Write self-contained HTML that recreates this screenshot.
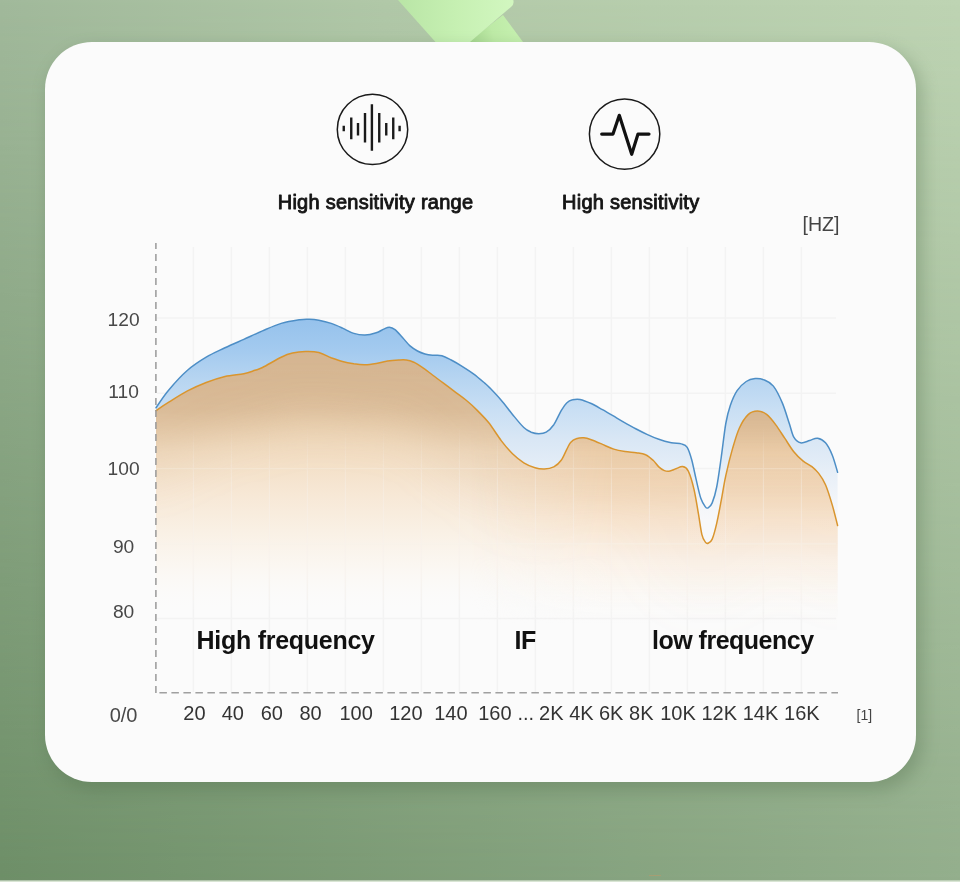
<!DOCTYPE html>
<html><head><meta charset="utf-8"><title>Frequency response</title>
<style>
html,body{margin:0;padding:0;}
body{width:960px;height:882px;overflow:hidden;background:#8fab88;font-family:"Liberation Sans",sans-serif;}
svg{display:block;}
text{font-family:"Liberation Sans",sans-serif;}
</style></head><body>
<svg width="960" height="882" viewBox="0 0 960 882">
<defs>
<linearGradient id="bgT" x1="0" y1="0" x2="1" y2="0"><stop offset="0" stop-color="#a1b99b"/><stop offset="0.4" stop-color="#b1c8a8"/><stop offset="1" stop-color="#bed4b3"/></linearGradient>
<linearGradient id="bgB" x1="0" y1="0" x2="1" y2="0"><stop offset="0" stop-color="#6d8e67"/><stop offset="1" stop-color="#93ae8c"/></linearGradient>
<linearGradient id="vm" x1="0" y1="0" x2="0" y2="1"><stop offset="0" stop-color="#fff" stop-opacity="0"/><stop offset="1" stop-color="#fff" stop-opacity="1"/></linearGradient>
<mask id="mk" maskUnits="userSpaceOnUse" x="0" y="0" width="960" height="882"><rect width="960" height="882" fill="url(#vm)"/></mask>
<linearGradient id="og" gradientUnits="userSpaceOnUse" x1="0" y1="350" x2="0" y2="612"><stop offset="0.000" stop-color="#e4c9a7"/><stop offset="0.153" stop-color="#e8cdab"/><stop offset="0.286" stop-color="#eed6b7"/><stop offset="0.420" stop-color="#f3dfc6"/><stop offset="0.553" stop-color="#f7e8d6"/><stop offset="0.687" stop-color="#f9f0e4"/><stop offset="0.824" stop-color="#fbf6ef" stop-opacity="0.8"/><stop offset="1.000" stop-color="#fbfbfa" stop-opacity="0"/></linearGradient>
<linearGradient id="og2" gradientUnits="userSpaceOnUse" x1="0" y1="400" x2="0" y2="625"><stop offset="0.000" stop-color="#e0c29e"/><stop offset="0.067" stop-color="#e4c7a3"/><stop offset="0.222" stop-color="#f0d2ae"/><stop offset="0.418" stop-color="#f5dcc0"/><stop offset="0.556" stop-color="#f8e6d2"/><stop offset="0.693" stop-color="#faf0e6"/><stop offset="0.831" stop-color="#fbf6f0" stop-opacity="0.7"/><stop offset="1.000" stop-color="#fbfaf9" stop-opacity="0"/></linearGradient>
<linearGradient id="hm" gradientUnits="userSpaceOnUse" x1="470" y1="0" x2="610" y2="0"><stop offset="0" stop-color="#fff" stop-opacity="0"/><stop offset="1" stop-color="#fff" stop-opacity="1"/></linearGradient>
<mask id="rm" maskUnits="userSpaceOnUse" x="0" y="0" width="960" height="882"><rect x="150" y="300" width="700" height="400" fill="url(#hm)"/></mask>
<linearGradient id="bl" gradientUnits="userSpaceOnUse" x1="0" y1="320" x2="0" y2="520"><stop offset="0.000" stop-color="#96c2ec"/><stop offset="0.150" stop-color="#a3caef"/><stop offset="0.300" stop-color="#b7d5f1"/><stop offset="0.450" stop-color="#c9dff4"/><stop offset="0.600" stop-color="#d9e7f5"/><stop offset="0.750" stop-color="#e6eef7"/><stop offset="0.900" stop-color="#f2f5f9"/><stop offset="1.000" stop-color="#f7f8fa"/></linearGradient>
<filter id="sh" x="-10%" y="-10%" width="120%" height="120%"><feGaussianBlur stdDeviation="9"/></filter>
<linearGradient id="rib" x1="0" y1="0" x2="1" y2="0"><stop offset="0" stop-color="#b9e5a6"/><stop offset="0.5" stop-color="#c6f0b2"/><stop offset="1" stop-color="#d2f7c0"/></linearGradient>
<linearGradient id="rib2" gradientUnits="userSpaceOnUse" x1="472" y1="42" x2="515" y2="30"><stop offset="0" stop-color="#a6d690"/><stop offset="0.5" stop-color="#bdeaa6"/><stop offset="1" stop-color="#c4efae"/></linearGradient>
<clipPath id="lowclip"><rect x="150" y="430" width="700" height="270"/></clipPath>
<clipPath id="oclip"><path d="M156.0 410.6C158.1 409.2 163.5 405.5 168.8 402.2C174.0 398.9 181.2 394.2 187.5 390.9C193.8 387.6 200.0 384.9 206.2 382.5C212.5 380.1 218.8 378.0 225.0 376.5C231.2 375.0 238.8 374.7 243.8 373.7C248.8 372.7 251.9 371.3 255.0 370.3C258.1 369.3 258.1 369.7 262.5 367.5C266.9 365.3 276.2 359.6 281.2 357.2C286.2 354.8 288.4 354.0 292.5 353.1C296.6 352.2 301.2 351.7 305.6 351.6C310.0 351.5 314.5 351.5 318.8 352.5C323.0 353.5 327.3 356.2 331.2 357.8C335.2 359.2 338.8 360.5 342.5 361.5C346.2 362.5 350.0 363.2 353.8 363.8C357.5 364.3 361.2 364.8 365.0 364.7C368.8 364.6 372.5 364.0 376.2 363.4C380.0 362.8 383.8 361.7 387.5 361.1C391.2 360.5 395.6 360.2 398.8 360.0C401.9 359.8 403.8 359.6 406.2 360.0C408.8 360.4 411.2 361.1 413.8 362.2C416.2 363.4 418.1 364.5 421.2 366.6C424.4 368.7 428.8 372.2 432.5 375.0C436.2 377.8 440.0 380.6 443.8 383.4C447.5 386.2 451.2 389.1 455.0 391.9C458.8 394.7 462.5 397.2 466.2 400.3C470.0 403.4 473.8 406.9 477.5 410.6C481.2 414.4 484.8 417.8 488.8 422.8C492.7 427.8 497.3 435.4 501.2 440.6C505.2 445.8 508.8 450.1 512.5 453.8C516.2 457.4 520.0 460.4 523.8 462.8C527.5 465.1 531.6 466.7 535.0 467.8C538.4 468.9 541.3 469.2 544.4 469.1C547.5 469.0 550.9 468.4 553.8 466.9C556.6 465.4 559.1 463.3 561.2 460.3C563.4 457.3 565.3 452.1 566.9 449.1C568.5 446.1 569.0 444.2 570.6 442.5C572.2 440.8 574.1 439.5 576.2 438.8C578.4 438.0 581.2 437.6 583.8 437.8C586.2 438.0 588.1 438.6 591.2 439.7C594.4 440.8 598.8 442.8 602.5 444.4C606.2 446.0 610.0 447.9 613.8 449.1C617.5 450.3 621.2 450.9 625.0 451.5C628.8 452.1 632.8 452.3 636.2 452.8C639.7 453.3 642.8 453.4 645.6 454.7C648.4 455.9 650.9 458.3 653.1 460.3C655.3 462.3 656.9 465.2 658.8 466.9C660.6 468.6 662.5 469.9 664.4 470.6C666.3 471.3 668.1 471.3 670.0 471.0C671.9 470.7 673.8 469.5 675.9 468.8C678.0 468.1 680.6 466.2 682.7 466.6C684.8 467.0 686.4 467.3 688.3 471.1C690.2 474.9 692.3 482.1 694.0 489.3C695.7 496.5 697.2 506.7 698.5 514.2C699.8 521.8 700.8 530.0 701.9 534.6C703.0 539.2 704.4 540.7 705.4 542.1C706.4 543.5 707.0 543.7 708.1 543.2C709.2 542.7 710.8 542.4 712.2 539.1C713.6 535.8 715.2 529.7 716.7 523.3C718.2 516.9 719.7 508.6 721.2 500.6C722.7 492.7 723.9 484.3 725.8 475.6C727.7 466.9 730.3 456.3 732.6 448.4C734.9 440.5 736.8 433.7 739.4 428.0C742.0 422.3 745.4 417.2 748.4 414.4C751.4 411.6 754.5 411.0 757.5 411.0C760.5 411.0 763.6 412.1 766.6 414.4C769.6 416.7 772.6 420.6 775.6 424.6C778.6 428.6 781.7 433.7 784.7 438.2C787.7 442.7 790.8 448.0 793.8 451.8C796.8 455.6 799.9 458.4 802.9 460.9C805.9 463.4 809.3 464.5 811.9 466.6C814.5 468.7 816.4 470.4 818.7 473.4C821.0 476.4 823.2 479.4 825.5 484.7C827.8 490.0 830.3 498.3 832.3 505.1C834.3 511.9 836.7 522.1 837.6 525.5L837.6 640L156 640Z"/></clipPath>
<clipPath id="oclip2"><path d="M156.0 410.6C158.1 409.2 163.5 405.5 168.8 402.2C174.0 398.9 181.2 394.2 187.5 390.9C193.8 387.6 200.0 384.9 206.2 382.5C212.5 380.1 218.8 378.0 225.0 376.5C231.2 375.0 238.8 374.7 243.8 373.7C248.8 372.7 251.9 371.3 255.0 370.3C258.1 369.3 258.1 369.7 262.5 367.5C266.9 365.3 276.2 359.6 281.2 357.2C286.2 354.8 288.4 354.0 292.5 353.1C296.6 352.2 301.2 351.7 305.6 351.6C310.0 351.5 314.5 351.5 318.8 352.5C323.0 353.5 327.3 356.2 331.2 357.8C335.2 359.2 338.8 360.5 342.5 361.5C346.2 362.5 350.0 363.2 353.8 363.8C357.5 364.3 361.2 364.8 365.0 364.7C368.8 364.6 372.5 364.0 376.2 363.4C380.0 362.8 383.8 361.7 387.5 361.1C391.2 360.5 395.6 360.2 398.8 360.0C401.9 359.8 403.8 359.6 406.2 360.0C408.8 360.4 411.2 361.1 413.8 362.2C416.2 363.4 418.1 364.5 421.2 366.6C424.4 368.7 428.8 372.2 432.5 375.0C436.2 377.8 440.0 380.6 443.8 383.4C447.5 386.2 451.2 389.1 455.0 391.9C458.8 394.7 462.5 397.2 466.2 400.3C470.0 403.4 473.8 406.9 477.5 410.6C481.2 414.4 484.8 417.8 488.8 422.8C492.7 427.8 497.3 435.4 501.2 440.6C505.2 445.8 508.8 450.1 512.5 453.8C516.2 457.4 520.0 460.4 523.8 462.8C527.5 465.1 531.6 466.7 535.0 467.8C538.4 468.9 541.3 469.2 544.4 469.1C547.5 469.0 550.9 468.4 553.8 466.9C556.6 465.4 559.1 463.3 561.2 460.3C563.4 457.3 565.3 452.1 566.9 449.1C568.5 446.1 569.0 444.2 570.6 442.5C572.2 440.8 574.1 439.5 576.2 438.8C578.4 438.0 581.2 437.6 583.8 437.8C586.2 438.0 588.1 438.6 591.2 439.7C594.4 440.8 598.8 442.8 602.5 444.4C606.2 446.0 610.0 447.9 613.8 449.1C617.5 450.3 621.2 450.9 625.0 451.5C628.8 452.1 632.8 452.3 636.2 452.8C639.7 453.3 642.8 453.4 645.6 454.7C648.4 455.9 650.9 458.3 653.1 460.3C655.3 462.3 656.9 465.2 658.8 466.9C660.6 468.6 662.5 469.9 664.4 470.6C666.3 471.3 668.1 471.3 670.0 471.0C671.9 470.7 673.8 469.5 675.9 468.8C678.0 468.1 680.6 466.2 682.7 466.6C684.8 467.0 686.4 467.3 688.3 471.1C690.2 474.9 692.3 482.1 694.0 489.3C695.7 496.5 697.2 506.7 698.5 514.2C699.8 521.8 700.8 530.0 701.9 534.6C703.0 539.2 704.4 540.7 705.4 542.1C706.4 543.5 707.0 543.7 708.1 543.2C709.2 542.7 710.8 542.4 712.2 539.1C713.6 535.8 715.2 529.7 716.7 523.3C718.2 516.9 719.7 508.6 721.2 500.6C722.7 492.7 723.9 484.3 725.8 475.6C727.7 466.9 730.3 456.3 732.6 448.4C734.9 440.5 736.8 433.7 739.4 428.0C742.0 422.3 745.4 417.2 748.4 414.4C751.4 411.6 754.5 411.0 757.5 411.0C760.5 411.0 763.6 412.1 766.6 414.4C769.6 416.7 772.6 420.6 775.6 424.6C778.6 428.6 781.7 433.7 784.7 438.2C787.7 442.7 790.8 448.0 793.8 451.8C796.8 455.6 799.9 458.4 802.9 460.9C805.9 463.4 809.3 464.5 811.9 466.6C814.5 468.7 816.4 470.4 818.7 473.4C821.0 476.4 823.2 479.4 825.5 484.7C827.8 490.0 830.3 498.3 832.3 505.1C834.3 511.9 836.7 522.1 837.6 525.5L837.6 600L156 600Z"/></clipPath>
<linearGradient id="gmv" gradientUnits="userSpaceOnUse" x1="0" y1="425" x2="0" y2="490"><stop offset="0" stop-color="#fff" stop-opacity="0"/><stop offset="1" stop-color="#fff" stop-opacity="1"/></linearGradient>
<mask id="gm" maskUnits="userSpaceOnUse" x="0" y="0" width="960" height="882"><rect x="150" y="240" width="700" height="460" fill="url(#gmv)"/></mask>
<filter id="bandf" x="-5%" y="-60%" width="110%" height="220%"><feGaussianBlur stdDeviation="24"/></filter>
<linearGradient id="bandv" gradientUnits="userSpaceOnUse" x1="0" y1="350" x2="0" y2="520"><stop offset="0" stop-color="#fff" stop-opacity="1"/><stop offset="0.35" stop-color="#fff" stop-opacity="0.9"/><stop offset="0.6" stop-color="#fff" stop-opacity="0.26"/><stop offset="1" stop-color="#fff" stop-opacity="0.05"/></linearGradient>
<mask id="bandm" maskUnits="userSpaceOnUse" x="0" y="0" width="960" height="882"><rect x="100" y="250" width="800" height="450" fill="url(#bandv)"/></mask>
</defs>
<rect width="960" height="882" fill="url(#bgT)"/><rect width="960" height="882" fill="url(#bgB)" mask="url(#mk)"/>
<!-- ribbon -->
<polygon points="503,15 523,42 468,42" fill="url(#rib2)"/>
<path d="M398 0H513.3Q514.5 4 511 7L470 42H435.5Z" fill="url(#rib)"/>
<!-- card shadow -->
<rect x="49" y="49" width="873" height="741" rx="47" fill="#4a6644" opacity="0.32" filter="url(#sh)"/>
<rect x="45" y="42" width="871" height="740" rx="47" fill="#fbfbfb"/>
<!-- fills -->
<g stroke="#f3f3f3" stroke-width="1.5"><line x1="193.4" y1="247" x2="193.4" y2="692" /><line x1="231.4" y1="247" x2="231.4" y2="692" /><line x1="269.4" y1="247" x2="269.4" y2="692" /><line x1="307.4" y1="247" x2="307.4" y2="692" /><line x1="345.4" y1="247" x2="345.4" y2="692" /><line x1="383.4" y1="247" x2="383.4" y2="692" /><line x1="421.4" y1="247" x2="421.4" y2="692" /><line x1="459.4" y1="247" x2="459.4" y2="692" /><line x1="497.4" y1="247" x2="497.4" y2="692" /><line x1="535.4" y1="247" x2="535.4" y2="692" /><line x1="573.4" y1="247" x2="573.4" y2="692" /><line x1="611.4" y1="247" x2="611.4" y2="692" /><line x1="649.4" y1="247" x2="649.4" y2="692" /><line x1="687.4" y1="247" x2="687.4" y2="692" /><line x1="725.4" y1="247" x2="725.4" y2="692" /><line x1="763.4" y1="247" x2="763.4" y2="692" /><line x1="801.4" y1="247" x2="801.4" y2="692" /><line x1="157" y1="318.0" x2="836" y2="318.0" /><line x1="157" y1="393.3" x2="836" y2="393.3" /><line x1="157" y1="468.6" x2="836" y2="468.6" /><line x1="157" y1="543.9" x2="836" y2="543.9" /><line x1="157" y1="618.6" x2="836" y2="618.6" /></g>
<path d="M156.0 407.8C158.1 404.8 163.5 396.2 168.8 390.0C174.0 383.8 181.2 375.8 187.5 370.3C193.8 364.8 200.0 360.9 206.2 357.2C212.5 353.4 218.8 350.8 225.0 347.8C231.2 344.8 237.5 342.2 243.8 339.4C250.0 336.6 256.2 333.6 262.5 330.9C268.8 328.2 275.0 325.3 281.2 323.4C287.5 321.5 295.3 320.4 300.0 319.7C304.7 319.0 306.3 319.2 309.4 319.3C312.5 319.4 315.1 319.6 318.8 320.2C322.4 320.9 327.3 322.1 331.2 323.4C335.2 324.7 338.8 326.4 342.5 328.1C346.2 329.8 350.0 332.2 353.8 333.4C357.5 334.6 361.2 335.2 365.0 335.1C368.8 335.0 373.1 333.8 376.2 332.8C379.4 331.8 381.6 330.0 383.8 329.1C385.9 328.2 387.5 327.1 389.4 327.2C391.3 327.3 392.8 327.9 395.0 329.6C397.2 331.3 400.0 334.8 402.5 337.5C405.0 340.2 407.5 343.6 410.0 345.9C412.5 348.1 415.0 349.6 417.5 351.0C420.0 352.4 422.5 353.3 425.0 354.0C427.5 354.7 429.7 355.0 432.5 355.3C435.3 355.6 438.8 354.9 441.9 355.7C445.0 356.5 447.8 358.2 451.2 360.0C454.7 361.8 458.8 364.2 462.5 366.6C466.2 369.0 470.0 371.3 473.8 374.1C477.5 376.9 482.3 381.1 485.0 383.4C487.7 385.7 487.3 385.3 490.0 388.1C492.7 390.9 497.5 395.9 501.2 400.3C505.0 404.7 508.8 409.9 512.5 414.4C516.2 418.9 520.6 424.5 523.8 427.5C526.9 430.5 528.8 431.2 531.2 432.2C533.8 433.2 536.2 433.7 538.8 433.7C541.2 433.7 543.8 433.7 546.2 432.2C548.8 430.7 551.2 428.3 553.8 424.7C556.2 421.1 559.1 414.3 561.2 410.6C563.4 406.9 565.0 404.6 566.9 402.8C568.8 400.9 570.3 400.3 572.5 399.8C574.7 399.2 576.9 398.8 580.0 399.4C583.1 400.0 587.5 401.8 591.2 403.5C595.0 405.2 598.8 407.6 602.5 409.7C606.2 411.8 610.0 414.1 613.8 416.2C617.5 418.4 621.2 420.7 625.0 422.8C628.8 424.9 632.5 427.0 636.2 429.0C640.0 431.0 643.8 432.9 647.5 434.6C651.2 436.3 654.8 437.9 658.8 439.3C662.7 440.7 667.5 442.0 671.3 442.8C675.1 443.6 678.9 443.1 681.5 443.9C684.1 444.6 685.5 444.6 687.2 447.3C688.9 450.0 690.2 454.3 691.7 459.8C693.2 465.3 694.8 473.8 696.3 480.2C697.8 486.6 699.3 493.9 700.8 498.3C702.3 502.8 704.2 505.3 705.4 506.9C706.6 508.5 707.0 508.5 708.1 507.8C709.2 507.1 710.8 506.4 712.2 502.9C713.6 499.4 715.2 494.6 716.7 487.0C718.2 479.4 719.7 468.1 721.2 457.5C722.7 446.9 724.3 432.2 725.8 423.5C727.3 414.8 728.4 410.9 730.3 405.4C732.2 399.9 734.5 394.6 737.1 390.6C739.8 386.6 743.2 383.5 746.2 381.5C749.2 379.5 752.2 378.9 755.2 378.6C758.2 378.4 761.3 378.8 764.3 380.0C767.3 381.2 770.4 382.2 773.4 386.1C776.4 390.0 779.8 396.9 782.4 403.1C785.0 409.3 787.4 417.8 789.3 423.5C791.2 429.2 791.9 433.9 793.8 437.1C795.7 440.3 798.0 442.2 800.6 442.8C803.2 443.4 806.9 441.3 809.7 440.5C812.5 439.7 815.0 437.8 817.6 438.2C820.2 438.6 823.0 440.0 825.5 442.8C828.0 445.6 830.3 450.3 832.3 455.2C834.3 460.1 836.7 469.4 837.6 472.2L837.6 525.5C836.7 522.1 834.3 511.9 832.3 505.1C830.3 498.3 827.8 490.0 825.5 484.7C823.2 479.4 821.0 476.4 818.7 473.4C816.4 470.4 814.5 468.7 811.9 466.6C809.3 464.5 805.9 463.4 802.9 460.9C799.9 458.4 796.8 455.6 793.8 451.8C790.8 448.0 787.7 442.7 784.7 438.2C781.7 433.7 778.6 428.6 775.6 424.6C772.6 420.6 769.6 416.7 766.6 414.4C763.6 412.1 760.5 411.0 757.5 411.0C754.5 411.0 751.4 411.6 748.4 414.4C745.4 417.2 742.0 422.3 739.4 428.0C736.8 433.7 734.9 440.5 732.6 448.4C730.3 456.3 727.7 466.9 725.8 475.6C723.9 484.3 722.7 492.7 721.2 500.6C719.7 508.6 718.2 516.9 716.7 523.3C715.2 529.7 713.6 535.8 712.2 539.1C710.8 542.4 709.2 542.7 708.1 543.2C707.0 543.7 706.4 543.5 705.4 542.1C704.4 540.7 703.0 539.2 701.9 534.6C700.8 530.0 699.8 521.8 698.5 514.2C697.2 506.7 695.7 496.5 694.0 489.3C692.3 482.1 690.2 474.9 688.3 471.1C686.4 467.3 684.8 467.0 682.7 466.6C680.6 466.2 678.0 468.1 675.9 468.8C673.8 469.5 671.9 470.7 670.0 471.0C668.1 471.3 666.3 471.3 664.4 470.6C662.5 469.9 660.6 468.6 658.8 466.9C656.9 465.2 655.3 462.3 653.1 460.3C650.9 458.3 648.4 455.9 645.6 454.7C642.8 453.4 639.7 453.3 636.2 452.8C632.8 452.3 628.8 452.1 625.0 451.5C621.2 450.9 617.5 450.3 613.8 449.1C610.0 447.9 606.2 446.0 602.5 444.4C598.8 442.8 594.4 440.8 591.2 439.7C588.1 438.6 586.2 438.0 583.8 437.8C581.2 437.6 578.4 438.0 576.2 438.8C574.1 439.5 572.2 440.8 570.6 442.5C569.0 444.2 568.5 446.1 566.9 449.1C565.3 452.1 563.4 457.3 561.2 460.3C559.1 463.3 556.6 465.4 553.8 466.9C550.9 468.4 547.5 469.0 544.4 469.1C541.3 469.2 538.4 468.9 535.0 467.8C531.6 466.7 527.5 465.1 523.8 462.8C520.0 460.4 516.2 457.4 512.5 453.8C508.8 450.1 505.2 445.8 501.2 440.6C497.3 435.4 492.7 427.8 488.8 422.8C484.8 417.8 481.2 414.4 477.5 410.6C473.8 406.9 470.0 403.4 466.2 400.3C462.5 397.2 458.8 394.7 455.0 391.9C451.2 389.1 447.5 386.2 443.8 383.4C440.0 380.6 436.2 377.8 432.5 375.0C428.8 372.2 424.4 368.7 421.2 366.6C418.1 364.5 416.2 363.4 413.8 362.2C411.2 361.1 408.8 360.4 406.2 360.0C403.8 359.6 401.9 359.8 398.8 360.0C395.6 360.2 391.2 360.5 387.5 361.1C383.8 361.7 380.0 362.8 376.2 363.4C372.5 364.0 368.8 364.6 365.0 364.7C361.2 364.8 357.5 364.3 353.8 363.8C350.0 363.2 346.2 362.5 342.5 361.5C338.8 360.5 335.2 359.2 331.2 357.8C327.3 356.2 323.0 353.5 318.8 352.5C314.5 351.5 310.0 351.5 305.6 351.6C301.2 351.7 296.6 352.2 292.5 353.1C288.4 354.0 286.2 354.8 281.2 357.2C276.2 359.6 266.9 365.3 262.5 367.5C258.1 369.7 258.1 369.3 255.0 370.3C251.9 371.3 248.8 372.7 243.8 373.7C238.8 374.7 231.2 375.0 225.0 376.5C218.8 378.0 212.5 380.1 206.2 382.5C200.0 384.9 193.8 387.6 187.5 390.9C181.2 394.2 174.0 398.9 168.8 402.2C163.5 405.5 158.1 409.2 156.0 410.6Z" fill="url(#bl)"/>
<path d="M156.0 410.6C158.1 409.2 163.5 405.5 168.8 402.2C174.0 398.9 181.2 394.2 187.5 390.9C193.8 387.6 200.0 384.9 206.2 382.5C212.5 380.1 218.8 378.0 225.0 376.5C231.2 375.0 238.8 374.7 243.8 373.7C248.8 372.7 251.9 371.3 255.0 370.3C258.1 369.3 258.1 369.7 262.5 367.5C266.9 365.3 276.2 359.6 281.2 357.2C286.2 354.8 288.4 354.0 292.5 353.1C296.6 352.2 301.2 351.7 305.6 351.6C310.0 351.5 314.5 351.5 318.8 352.5C323.0 353.5 327.3 356.2 331.2 357.8C335.2 359.2 338.8 360.5 342.5 361.5C346.2 362.5 350.0 363.2 353.8 363.8C357.5 364.3 361.2 364.8 365.0 364.7C368.8 364.6 372.5 364.0 376.2 363.4C380.0 362.8 383.8 361.7 387.5 361.1C391.2 360.5 395.6 360.2 398.8 360.0C401.9 359.8 403.8 359.6 406.2 360.0C408.8 360.4 411.2 361.1 413.8 362.2C416.2 363.4 418.1 364.5 421.2 366.6C424.4 368.7 428.8 372.2 432.5 375.0C436.2 377.8 440.0 380.6 443.8 383.4C447.5 386.2 451.2 389.1 455.0 391.9C458.8 394.7 462.5 397.2 466.2 400.3C470.0 403.4 473.8 406.9 477.5 410.6C481.2 414.4 484.8 417.8 488.8 422.8C492.7 427.8 497.3 435.4 501.2 440.6C505.2 445.8 508.8 450.1 512.5 453.8C516.2 457.4 520.0 460.4 523.8 462.8C527.5 465.1 531.6 466.7 535.0 467.8C538.4 468.9 541.3 469.2 544.4 469.1C547.5 469.0 550.9 468.4 553.8 466.9C556.6 465.4 559.1 463.3 561.2 460.3C563.4 457.3 565.3 452.1 566.9 449.1C568.5 446.1 569.0 444.2 570.6 442.5C572.2 440.8 574.1 439.5 576.2 438.8C578.4 438.0 581.2 437.6 583.8 437.8C586.2 438.0 588.1 438.6 591.2 439.7C594.4 440.8 598.8 442.8 602.5 444.4C606.2 446.0 610.0 447.9 613.8 449.1C617.5 450.3 621.2 450.9 625.0 451.5C628.8 452.1 632.8 452.3 636.2 452.8C639.7 453.3 642.8 453.4 645.6 454.7C648.4 455.9 650.9 458.3 653.1 460.3C655.3 462.3 656.9 465.2 658.8 466.9C660.6 468.6 662.5 469.9 664.4 470.6C666.3 471.3 668.1 471.3 670.0 471.0C671.9 470.7 673.8 469.5 675.9 468.8C678.0 468.1 680.6 466.2 682.7 466.6C684.8 467.0 686.4 467.3 688.3 471.1C690.2 474.9 692.3 482.1 694.0 489.3C695.7 496.5 697.2 506.7 698.5 514.2C699.8 521.8 700.8 530.0 701.9 534.6C703.0 539.2 704.4 540.7 705.4 542.1C706.4 543.5 707.0 543.7 708.1 543.2C709.2 542.7 710.8 542.4 712.2 539.1C713.6 535.8 715.2 529.7 716.7 523.3C718.2 516.9 719.7 508.6 721.2 500.6C722.7 492.7 723.9 484.3 725.8 475.6C727.7 466.9 730.3 456.3 732.6 448.4C734.9 440.5 736.8 433.7 739.4 428.0C742.0 422.3 745.4 417.2 748.4 414.4C751.4 411.6 754.5 411.0 757.5 411.0C760.5 411.0 763.6 412.1 766.6 414.4C769.6 416.7 772.6 420.6 775.6 424.6C778.6 428.6 781.7 433.7 784.7 438.2C787.7 442.7 790.8 448.0 793.8 451.8C796.8 455.6 799.9 458.4 802.9 460.9C805.9 463.4 809.3 464.5 811.9 466.6C814.5 468.7 816.4 470.4 818.7 473.4C821.0 476.4 823.2 479.4 825.5 484.7C827.8 490.0 830.3 498.3 832.3 505.1C834.3 511.9 836.7 522.1 837.6 525.5L837.6 640L156 640Z" fill="url(#og)"/>
<g mask="url(#rm)"><path d="M156.0 410.6C158.1 409.2 163.5 405.5 168.8 402.2C174.0 398.9 181.2 394.2 187.5 390.9C193.8 387.6 200.0 384.9 206.2 382.5C212.5 380.1 218.8 378.0 225.0 376.5C231.2 375.0 238.8 374.7 243.8 373.7C248.8 372.7 251.9 371.3 255.0 370.3C258.1 369.3 258.1 369.7 262.5 367.5C266.9 365.3 276.2 359.6 281.2 357.2C286.2 354.8 288.4 354.0 292.5 353.1C296.6 352.2 301.2 351.7 305.6 351.6C310.0 351.5 314.5 351.5 318.8 352.5C323.0 353.5 327.3 356.2 331.2 357.8C335.2 359.2 338.8 360.5 342.5 361.5C346.2 362.5 350.0 363.2 353.8 363.8C357.5 364.3 361.2 364.8 365.0 364.7C368.8 364.6 372.5 364.0 376.2 363.4C380.0 362.8 383.8 361.7 387.5 361.1C391.2 360.5 395.6 360.2 398.8 360.0C401.9 359.8 403.8 359.6 406.2 360.0C408.8 360.4 411.2 361.1 413.8 362.2C416.2 363.4 418.1 364.5 421.2 366.6C424.4 368.7 428.8 372.2 432.5 375.0C436.2 377.8 440.0 380.6 443.8 383.4C447.5 386.2 451.2 389.1 455.0 391.9C458.8 394.7 462.5 397.2 466.2 400.3C470.0 403.4 473.8 406.9 477.5 410.6C481.2 414.4 484.8 417.8 488.8 422.8C492.7 427.8 497.3 435.4 501.2 440.6C505.2 445.8 508.8 450.1 512.5 453.8C516.2 457.4 520.0 460.4 523.8 462.8C527.5 465.1 531.6 466.7 535.0 467.8C538.4 468.9 541.3 469.2 544.4 469.1C547.5 469.0 550.9 468.4 553.8 466.9C556.6 465.4 559.1 463.3 561.2 460.3C563.4 457.3 565.3 452.1 566.9 449.1C568.5 446.1 569.0 444.2 570.6 442.5C572.2 440.8 574.1 439.5 576.2 438.8C578.4 438.0 581.2 437.6 583.8 437.8C586.2 438.0 588.1 438.6 591.2 439.7C594.4 440.8 598.8 442.8 602.5 444.4C606.2 446.0 610.0 447.9 613.8 449.1C617.5 450.3 621.2 450.9 625.0 451.5C628.8 452.1 632.8 452.3 636.2 452.8C639.7 453.3 642.8 453.4 645.6 454.7C648.4 455.9 650.9 458.3 653.1 460.3C655.3 462.3 656.9 465.2 658.8 466.9C660.6 468.6 662.5 469.9 664.4 470.6C666.3 471.3 668.1 471.3 670.0 471.0C671.9 470.7 673.8 469.5 675.9 468.8C678.0 468.1 680.6 466.2 682.7 466.6C684.8 467.0 686.4 467.3 688.3 471.1C690.2 474.9 692.3 482.1 694.0 489.3C695.7 496.5 697.2 506.7 698.5 514.2C699.8 521.8 700.8 530.0 701.9 534.6C703.0 539.2 704.4 540.7 705.4 542.1C706.4 543.5 707.0 543.7 708.1 543.2C709.2 542.7 710.8 542.4 712.2 539.1C713.6 535.8 715.2 529.7 716.7 523.3C718.2 516.9 719.7 508.6 721.2 500.6C722.7 492.7 723.9 484.3 725.8 475.6C727.7 466.9 730.3 456.3 732.6 448.4C734.9 440.5 736.8 433.7 739.4 428.0C742.0 422.3 745.4 417.2 748.4 414.4C751.4 411.6 754.5 411.0 757.5 411.0C760.5 411.0 763.6 412.1 766.6 414.4C769.6 416.7 772.6 420.6 775.6 424.6C778.6 428.6 781.7 433.7 784.7 438.2C787.7 442.7 790.8 448.0 793.8 451.8C796.8 455.6 799.9 458.4 802.9 460.9C805.9 463.4 809.3 464.5 811.9 466.6C814.5 468.7 816.4 470.4 818.7 473.4C821.0 476.4 823.2 479.4 825.5 484.7C827.8 490.0 830.3 498.3 832.3 505.1C834.3 511.9 836.7 522.1 837.6 525.5L837.6 640L156 640Z" fill="url(#og2)"/></g>
<g clip-path="url(#oclip)"><g mask="url(#bandm)"><path d="M100 445L156.0 410.6C158.1 409.2 163.5 405.5 168.8 402.2C174.0 398.9 181.2 394.2 187.5 390.9C193.8 387.6 200.0 384.9 206.2 382.5C212.5 380.1 218.8 378.0 225.0 376.5C231.2 375.0 238.8 374.7 243.8 373.7C248.8 372.7 251.9 371.3 255.0 370.3C258.1 369.3 258.1 369.7 262.5 367.5C266.9 365.3 276.2 359.6 281.2 357.2C286.2 354.8 288.4 354.0 292.5 353.1C296.6 352.2 301.2 351.7 305.6 351.6C310.0 351.5 314.5 351.5 318.8 352.5C323.0 353.5 327.3 356.2 331.2 357.8C335.2 359.2 338.8 360.5 342.5 361.5C346.2 362.5 350.0 363.2 353.8 363.8C357.5 364.3 361.2 364.8 365.0 364.7C368.8 364.6 372.5 364.0 376.2 363.4C380.0 362.8 383.8 361.7 387.5 361.1C391.2 360.5 395.6 360.2 398.8 360.0C401.9 359.8 403.8 359.6 406.2 360.0C408.8 360.4 411.2 361.1 413.8 362.2C416.2 363.4 418.1 364.5 421.2 366.6C424.4 368.7 428.8 372.2 432.5 375.0C436.2 377.8 440.0 380.6 443.8 383.4C447.5 386.2 451.2 389.1 455.0 391.9C458.8 394.7 462.5 397.2 466.2 400.3C470.0 403.4 473.8 406.9 477.5 410.6C481.2 414.4 484.8 417.8 488.8 422.8C492.7 427.8 497.3 435.4 501.2 440.6C505.2 445.8 508.8 450.1 512.5 453.8C516.2 457.4 520.0 460.4 523.8 462.8C527.5 465.1 531.6 466.7 535.0 467.8C538.4 468.9 541.3 469.2 544.4 469.1C547.5 469.0 550.9 468.4 553.8 466.9C556.6 465.4 559.1 463.3 561.2 460.3C563.4 457.3 565.3 452.1 566.9 449.1C568.5 446.1 569.0 444.2 570.6 442.5C572.2 440.8 574.1 439.5 576.2 438.8C578.4 438.0 581.2 437.6 583.8 437.8C586.2 438.0 588.1 438.6 591.2 439.7C594.4 440.8 598.8 442.8 602.5 444.4C606.2 446.0 610.0 447.9 613.8 449.1C617.5 450.3 621.2 450.9 625.0 451.5C628.8 452.1 632.8 452.3 636.2 452.8C639.7 453.3 642.8 453.4 645.6 454.7C648.4 455.9 650.9 458.3 653.1 460.3C655.3 462.3 656.9 465.2 658.8 466.9C660.6 468.6 662.5 469.9 664.4 470.6C666.3 471.3 668.1 471.3 670.0 471.0C671.9 470.7 673.8 469.5 675.9 468.8C678.0 468.1 680.6 466.2 682.7 466.6C684.8 467.0 686.4 467.3 688.3 471.1C690.2 474.9 692.3 482.1 694.0 489.3C695.7 496.5 697.2 506.7 698.5 514.2C699.8 521.8 700.8 530.0 701.9 534.6C703.0 539.2 704.4 540.7 705.4 542.1C706.4 543.5 707.0 543.7 708.1 543.2C709.2 542.7 710.8 542.4 712.2 539.1C713.6 535.8 715.2 529.7 716.7 523.3C718.2 516.9 719.7 508.6 721.2 500.6C722.7 492.7 723.9 484.3 725.8 475.6C727.7 466.9 730.3 456.3 732.6 448.4C734.9 440.5 736.8 433.7 739.4 428.0C742.0 422.3 745.4 417.2 748.4 414.4C751.4 411.6 754.5 411.0 757.5 411.0C760.5 411.0 763.6 412.1 766.6 414.4C769.6 416.7 772.6 420.6 775.6 424.6C778.6 428.6 781.7 433.7 784.7 438.2C787.7 442.7 790.8 448.0 793.8 451.8C796.8 455.6 799.9 458.4 802.9 460.9C805.9 463.4 809.3 464.5 811.9 466.6C814.5 468.7 816.4 470.4 818.7 473.4C821.0 476.4 823.2 479.4 825.5 484.7C827.8 490.0 830.3 498.3 832.3 505.1C834.3 511.9 836.7 522.1 837.6 525.5L880 560" fill="none" stroke="#c8a47e" stroke-width="130" stroke-linejoin="round" opacity="0.55" filter="url(#bandf)"/></g></g>
<g mask="url(#gm)"><g stroke="#f7f3ee" stroke-width="1.1" opacity="0.4" clip-path="url(#oclip2)"><line x1="193.4" y1="247" x2="193.4" y2="692" /><line x1="231.4" y1="247" x2="231.4" y2="692" /><line x1="269.4" y1="247" x2="269.4" y2="692" /><line x1="307.4" y1="247" x2="307.4" y2="692" /><line x1="345.4" y1="247" x2="345.4" y2="692" /><line x1="383.4" y1="247" x2="383.4" y2="692" /><line x1="421.4" y1="247" x2="421.4" y2="692" /><line x1="459.4" y1="247" x2="459.4" y2="692" /><line x1="497.4" y1="247" x2="497.4" y2="692" /><line x1="535.4" y1="247" x2="535.4" y2="692" /><line x1="573.4" y1="247" x2="573.4" y2="692" /><line x1="611.4" y1="247" x2="611.4" y2="692" /><line x1="649.4" y1="247" x2="649.4" y2="692" /><line x1="687.4" y1="247" x2="687.4" y2="692" /><line x1="725.4" y1="247" x2="725.4" y2="692" /><line x1="763.4" y1="247" x2="763.4" y2="692" /><line x1="801.4" y1="247" x2="801.4" y2="692" /><line x1="157" y1="318.0" x2="836" y2="318.0" /><line x1="157" y1="393.3" x2="836" y2="393.3" /><line x1="157" y1="468.6" x2="836" y2="468.6" /><line x1="157" y1="543.9" x2="836" y2="543.9" /><line x1="157" y1="618.6" x2="836" y2="618.6" /></g></g>
<path d="M156.0 407.8C158.1 404.8 163.5 396.2 168.8 390.0C174.0 383.8 181.2 375.8 187.5 370.3C193.8 364.8 200.0 360.9 206.2 357.2C212.5 353.4 218.8 350.8 225.0 347.8C231.2 344.8 237.5 342.2 243.8 339.4C250.0 336.6 256.2 333.6 262.5 330.9C268.8 328.2 275.0 325.3 281.2 323.4C287.5 321.5 295.3 320.4 300.0 319.7C304.7 319.0 306.3 319.2 309.4 319.3C312.5 319.4 315.1 319.6 318.8 320.2C322.4 320.9 327.3 322.1 331.2 323.4C335.2 324.7 338.8 326.4 342.5 328.1C346.2 329.8 350.0 332.2 353.8 333.4C357.5 334.6 361.2 335.2 365.0 335.1C368.8 335.0 373.1 333.8 376.2 332.8C379.4 331.8 381.6 330.0 383.8 329.1C385.9 328.2 387.5 327.1 389.4 327.2C391.3 327.3 392.8 327.9 395.0 329.6C397.2 331.3 400.0 334.8 402.5 337.5C405.0 340.2 407.5 343.6 410.0 345.9C412.5 348.1 415.0 349.6 417.5 351.0C420.0 352.4 422.5 353.3 425.0 354.0C427.5 354.7 429.7 355.0 432.5 355.3C435.3 355.6 438.8 354.9 441.9 355.7C445.0 356.5 447.8 358.2 451.2 360.0C454.7 361.8 458.8 364.2 462.5 366.6C466.2 369.0 470.0 371.3 473.8 374.1C477.5 376.9 482.3 381.1 485.0 383.4C487.7 385.7 487.3 385.3 490.0 388.1C492.7 390.9 497.5 395.9 501.2 400.3C505.0 404.7 508.8 409.9 512.5 414.4C516.2 418.9 520.6 424.5 523.8 427.5C526.9 430.5 528.8 431.2 531.2 432.2C533.8 433.2 536.2 433.7 538.8 433.7C541.2 433.7 543.8 433.7 546.2 432.2C548.8 430.7 551.2 428.3 553.8 424.7C556.2 421.1 559.1 414.3 561.2 410.6C563.4 406.9 565.0 404.6 566.9 402.8C568.8 400.9 570.3 400.3 572.5 399.8C574.7 399.2 576.9 398.8 580.0 399.4C583.1 400.0 587.5 401.8 591.2 403.5C595.0 405.2 598.8 407.6 602.5 409.7C606.2 411.8 610.0 414.1 613.8 416.2C617.5 418.4 621.2 420.7 625.0 422.8C628.8 424.9 632.5 427.0 636.2 429.0C640.0 431.0 643.8 432.9 647.5 434.6C651.2 436.3 654.8 437.9 658.8 439.3C662.7 440.7 667.5 442.0 671.3 442.8C675.1 443.6 678.9 443.1 681.5 443.9C684.1 444.6 685.5 444.6 687.2 447.3C688.9 450.0 690.2 454.3 691.7 459.8C693.2 465.3 694.8 473.8 696.3 480.2C697.8 486.6 699.3 493.9 700.8 498.3C702.3 502.8 704.2 505.3 705.4 506.9C706.6 508.5 707.0 508.5 708.1 507.8C709.2 507.1 710.8 506.4 712.2 502.9C713.6 499.4 715.2 494.6 716.7 487.0C718.2 479.4 719.7 468.1 721.2 457.5C722.7 446.9 724.3 432.2 725.8 423.5C727.3 414.8 728.4 410.9 730.3 405.4C732.2 399.9 734.5 394.6 737.1 390.6C739.8 386.6 743.2 383.5 746.2 381.5C749.2 379.5 752.2 378.9 755.2 378.6C758.2 378.4 761.3 378.8 764.3 380.0C767.3 381.2 770.4 382.2 773.4 386.1C776.4 390.0 779.8 396.9 782.4 403.1C785.0 409.3 787.4 417.8 789.3 423.5C791.2 429.2 791.9 433.9 793.8 437.1C795.7 440.3 798.0 442.2 800.6 442.8C803.2 443.4 806.9 441.3 809.7 440.5C812.5 439.7 815.0 437.8 817.6 438.2C820.2 438.6 823.0 440.0 825.5 442.8C828.0 445.6 830.3 450.3 832.3 455.2C834.3 460.1 836.7 469.4 837.6 472.2" fill="none" stroke="#4d8ec6" stroke-width="1.5" stroke-linecap="round"/>
<path d="M156.0 410.6C158.1 409.2 163.5 405.5 168.8 402.2C174.0 398.9 181.2 394.2 187.5 390.9C193.8 387.6 200.0 384.9 206.2 382.5C212.5 380.1 218.8 378.0 225.0 376.5C231.2 375.0 238.8 374.7 243.8 373.7C248.8 372.7 251.9 371.3 255.0 370.3C258.1 369.3 258.1 369.7 262.5 367.5C266.9 365.3 276.2 359.6 281.2 357.2C286.2 354.8 288.4 354.0 292.5 353.1C296.6 352.2 301.2 351.7 305.6 351.6C310.0 351.5 314.5 351.5 318.8 352.5C323.0 353.5 327.3 356.2 331.2 357.8C335.2 359.2 338.8 360.5 342.5 361.5C346.2 362.5 350.0 363.2 353.8 363.8C357.5 364.3 361.2 364.8 365.0 364.7C368.8 364.6 372.5 364.0 376.2 363.4C380.0 362.8 383.8 361.7 387.5 361.1C391.2 360.5 395.6 360.2 398.8 360.0C401.9 359.8 403.8 359.6 406.2 360.0C408.8 360.4 411.2 361.1 413.8 362.2C416.2 363.4 418.1 364.5 421.2 366.6C424.4 368.7 428.8 372.2 432.5 375.0C436.2 377.8 440.0 380.6 443.8 383.4C447.5 386.2 451.2 389.1 455.0 391.9C458.8 394.7 462.5 397.2 466.2 400.3C470.0 403.4 473.8 406.9 477.5 410.6C481.2 414.4 484.8 417.8 488.8 422.8C492.7 427.8 497.3 435.4 501.2 440.6C505.2 445.8 508.8 450.1 512.5 453.8C516.2 457.4 520.0 460.4 523.8 462.8C527.5 465.1 531.6 466.7 535.0 467.8C538.4 468.9 541.3 469.2 544.4 469.1C547.5 469.0 550.9 468.4 553.8 466.9C556.6 465.4 559.1 463.3 561.2 460.3C563.4 457.3 565.3 452.1 566.9 449.1C568.5 446.1 569.0 444.2 570.6 442.5C572.2 440.8 574.1 439.5 576.2 438.8C578.4 438.0 581.2 437.6 583.8 437.8C586.2 438.0 588.1 438.6 591.2 439.7C594.4 440.8 598.8 442.8 602.5 444.4C606.2 446.0 610.0 447.9 613.8 449.1C617.5 450.3 621.2 450.9 625.0 451.5C628.8 452.1 632.8 452.3 636.2 452.8C639.7 453.3 642.8 453.4 645.6 454.7C648.4 455.9 650.9 458.3 653.1 460.3C655.3 462.3 656.9 465.2 658.8 466.9C660.6 468.6 662.5 469.9 664.4 470.6C666.3 471.3 668.1 471.3 670.0 471.0C671.9 470.7 673.8 469.5 675.9 468.8C678.0 468.1 680.6 466.2 682.7 466.6C684.8 467.0 686.4 467.3 688.3 471.1C690.2 474.9 692.3 482.1 694.0 489.3C695.7 496.5 697.2 506.7 698.5 514.2C699.8 521.8 700.8 530.0 701.9 534.6C703.0 539.2 704.4 540.7 705.4 542.1C706.4 543.5 707.0 543.7 708.1 543.2C709.2 542.7 710.8 542.4 712.2 539.1C713.6 535.8 715.2 529.7 716.7 523.3C718.2 516.9 719.7 508.6 721.2 500.6C722.7 492.7 723.9 484.3 725.8 475.6C727.7 466.9 730.3 456.3 732.6 448.4C734.9 440.5 736.8 433.7 739.4 428.0C742.0 422.3 745.4 417.2 748.4 414.4C751.4 411.6 754.5 411.0 757.5 411.0C760.5 411.0 763.6 412.1 766.6 414.4C769.6 416.7 772.6 420.6 775.6 424.6C778.6 428.6 781.7 433.7 784.7 438.2C787.7 442.7 790.8 448.0 793.8 451.8C796.8 455.6 799.9 458.4 802.9 460.9C805.9 463.4 809.3 464.5 811.9 466.6C814.5 468.7 816.4 470.4 818.7 473.4C821.0 476.4 823.2 479.4 825.5 484.7C827.8 490.0 830.3 498.3 832.3 505.1C834.3 511.9 836.7 522.1 837.6 525.5" fill="none" stroke="#d9952e" stroke-width="1.5" stroke-linecap="round"/>
<!-- axes -->
<path d="M155.9 693.1V243" fill="none" stroke="#989898" stroke-width="1.5" stroke-dasharray="7 5"/>
<path d="M159.4 692.8H838" fill="none" stroke="#a0a0a0" stroke-width="1.4" stroke-dasharray="7.5 4.5"/>
<!-- icons -->
<circle cx="372.5" cy="129.4" r="35.2" fill="none" stroke="#1a1a1a" stroke-width="1.5"/>
<g stroke="#1a1a1a" stroke-width="2.4"><line x1="343.75" y1="125.75" x2="343.75" y2="131.25"/><line x1="351.25" y1="117.50" x2="351.25" y2="139.25"/><line x1="358.00" y1="123.00" x2="358.00" y2="135.50"/><line x1="365.00" y1="113.00" x2="365.00" y2="142.50"/><line x1="371.90" y1="104.25" x2="371.90" y2="150.75"/><line x1="379.25" y1="113.00" x2="379.25" y2="142.50"/><line x1="386.25" y1="123.00" x2="386.25" y2="135.50"/><line x1="393.25" y1="117.50" x2="393.25" y2="139.25"/><line x1="399.60" y1="125.75" x2="399.60" y2="131.25"/></g>
<circle cx="624.6" cy="134.1" r="35.2" fill="none" stroke="#1a1a1a" stroke-width="1.5"/>
<path d="M601.7 134.1H613L619.3 115.3L631.7 154.3L638 134.1H649" fill="none" stroke="#111" stroke-width="3.2" stroke-linecap="round" stroke-linejoin="round"/>
<g opacity="0.999"><!-- titles -->
<g font-size="20" font-weight="400" fill="#151515" stroke="#151515" stroke-width="0.9" stroke-linejoin="round" text-anchor="middle" letter-spacing="0.25">
<text x="375.5" y="208.7">High sensitivity range</text>
<text x="630.7" y="208.7">High sensitivity</text>
</g>
<text x="821" y="230.6" font-size="19.6" fill="#444" text-anchor="middle">[HZ]</text>
<g font-size="19.2" fill="#484848" text-anchor="middle"><text x="123.6" y="325.6">120</text><text x="123.6" y="398.4">110</text><text x="123.6" y="475.3">100</text><text x="123.6" y="553.0">90</text><text x="123.6" y="617.5">80</text><text x="123.6" y="721.6" font-size="20">0/0</text></g>
<g font-size="20" fill="#333" text-anchor="middle"><text x="194.4" y="720.3">20</text><text x="232.8" y="720.3">40</text><text x="271.8" y="720.3">60</text><text x="310.6" y="720.3">80</text><text x="356.2" y="720.3">100</text><text x="405.9" y="720.3">120</text><text x="450.9" y="720.3">140</text><text x="494.9" y="720.3">160</text><text x="525.8" y="720.3">...</text><text x="551.3" y="720.3">2K</text><text x="581.4" y="720.3">4K</text><text x="611.2" y="720.3">6K</text><text x="641.3" y="720.3">8K</text><text x="678.0" y="720.3">10K</text><text x="719.3" y="720.3">12K</text><text x="760.5" y="720.3">14K</text><text x="801.9" y="720.3">16K</text></g>
<text x="864.3" y="720" font-size="14" fill="#444" text-anchor="middle">[1]</text>
<g font-size="25" font-weight="700" fill="#111" letter-spacing="-0.5">
<text x="196.6" y="648.5" letter-spacing="-0.28">High frequency</text>
<text x="514.5" y="648.5">IF</text>
<text x="652" y="648.5">low frequency</text>
</g>
</g>
<rect x="0" y="880.4" width="960" height="1.6" fill="#d9e5d4"/><rect x="649" y="875" width="12" height="1" fill="#b99a6a" opacity="0.6"/>
</svg>
</body></html>
